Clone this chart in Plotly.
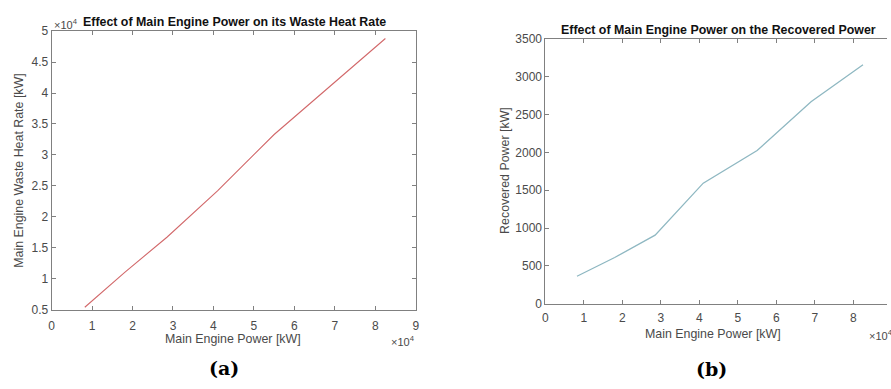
import plotly.graph_objects as go

W, H = 891, 389

# ---- data ----
engine_power_kw = [8200, 18000, 28500, 41000, 55000, 69000, 82500]
waste_heat_kw = [5400, 11000, 16700, 24200, 33300, 41200, 48800]
recovered_power_kw = [362, 610, 906, 1594, 2025, 2670, 3160]

x_tick_vals = [0, 10000, 20000, 30000, 40000, 50000, 60000, 70000, 80000, 90000]
x_tick_text = ["0", "1", "2", "3", "4", "5", "6", "7", "8", "9"]
a_y_tick_vals = [5000, 10000, 15000, 20000, 25000, 30000, 35000, 40000, 45000, 50000]
a_y_tick_text = ["0.5", "1", "1.5", "2", "2.5", "3", "3.5", "4", "4.5", "5"]
b_y_tick_vals = [0, 500, 1000, 1500, 2000, 2500, 3000, 3500]
b_y_tick_text = ["0", "500", "1000", "1500", "2000", "2500", "3000", "3500"]

title_a = "Effect of Main Engine Power on its Waste Heat Rate"
title_b = "Effect of Main Engine Power on the Recovered Power"
xlabel = "Main Engine Power [kW]"
ylabel_a = "Main Engine Waste Heat Rate [kW]"
ylabel_b = "Recovered Power [kW]"


def fx(px):
    return px / W


def fy(py):
    return 1 - py / H


FONT = "Liberation Sans, Arial, sans-serif"
TICKC = "#4a4a4a"
AXC = "#808080"

fig = go.Figure()
fig.add_trace(go.Scatter(x=engine_power_kw, y=waste_heat_kw, mode="lines",
                         line=dict(color="#d2696b", width=1.1),
                         xaxis="x", yaxis="y", showlegend=False))
fig.add_trace(go.Scatter(x=engine_power_kw, y=recovered_power_kw, mode="lines",
                         line=dict(color="#8fb8c2", width=1.3),
                         xaxis="x2", yaxis="y2", showlegend=False))

common = dict(showgrid=False, zeroline=False, showline=True, linecolor=AXC,
              linewidth=1, ticks="inside", ticklen=4, tickcolor=AXC,
              tickfont=dict(family=FONT, size=12, color=TICKC))

# right plot: axes box is cut at the picture's right edge
b_left = 546.7
b_unit = 38.8
b_xmax = (W - b_left) / b_unit * 10000

fig.update_layout(
    width=W, height=H,
    margin=dict(l=0, r=0, t=0, b=0),
    paper_bgcolor="white", plot_bgcolor="white",
    xaxis=dict(domain=[fx(49), fx(416)], range=[0, 90000], anchor="y",
               tickvals=x_tick_vals, ticktext=x_tick_text, mirror="ticks",
               ticklabelstandoff=5, **common),
    yaxis=dict(domain=[fy(314), fy(25)], range=[5000, 50000], anchor="x",
               tickvals=a_y_tick_vals, ticktext=a_y_tick_text, mirror="ticks", **common),
    xaxis2=dict(domain=[fx(b_left), 1.0], range=[0, b_xmax], anchor="y2",
                tickvals=x_tick_vals[:9], ticktext=x_tick_text[:9], mirror="ticks",
                ticklabelstandoff=3, **common),
    yaxis2=dict(domain=[fy(307.7), fy(33.3)], range=[0, 3500], anchor="x2",
                tickvals=b_y_tick_vals, ticktext=b_y_tick_text, mirror=False, **common),
)

ann = []


def text(x, y, s, size=12.4, color=TICKC, family=FONT, angle=0, xanchor="center"):
    ann.append(dict(x=fx(x), y=fy(y), xref="paper", yref="paper", text=s,
                    showarrow=False, textangle=angle, xanchor=xanchor, yanchor="middle",
                    font=dict(family=family, size=size, color=color)))


text(233, 16, "<b>%s</b>" % title_a, size=12.4, color="#111111")
text(721, 24, "<b>%s</b>" % title_b, size=12.4, color="#111111")
text(232, 344, xlabel)
text(716, 339, xlabel)
text(16, 170, ylabel_a, angle=-90)
text(506, 170, ylabel_b, angle=-90)
text(49, 18, "×10<sup>4</sup>", size=11, xanchor="left")
text(389, 346, "×10<sup>4</sup>", size=11, xanchor="left")
text(871, 340, "×10<sup>4</sup>", size=11, xanchor="left")
text(223, 374, "<b>(a)</b>", size=19, color="#000000", family="DejaVu Serif, serif")
text(714, 376, "<b>(b)</b>", size=19, color="#000000", family="DejaVu Serif, serif")

fig.update_layout(annotations=ann)
fig.write_html("out.html")
